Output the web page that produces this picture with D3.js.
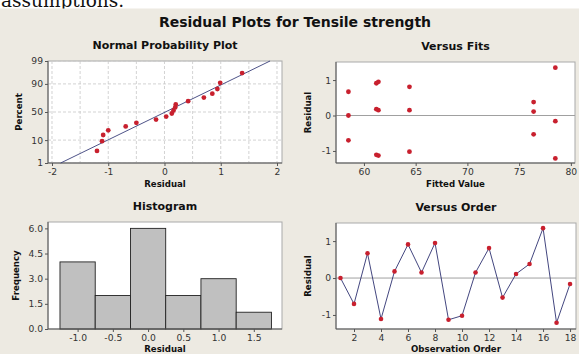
<!DOCTYPE html>
<html><head><meta charset="utf-8">
<script src="https://cdn.jsdelivr.net/npm/d3@7"></script>
<style>
html,body{margin:0;padding:0;background:#fff;}
svg{display:block;}
</style></head>
<body>
<svg id="c" width="579" height="354"></svg>
<script>
// ---------- data ----------
const order = [1,2,3,4,5,6,7,8,9,10,11,12,13,14,15,16,17,18];
const residuals = [0.00,-0.70,0.67,-1.11,0.18,0.91,0.15,0.95,-1.13,-1.02,0.15,0.81,-0.53,0.11,0.38,1.35,-1.21,-0.16];
const fitted = [58.5,58.5,58.5,61.2,61.2,61.2,61.4,61.4,61.4,64.4,64.4,64.4,76.4,76.4,76.4,78.5,78.5,78.5];
const nppResidual = [-1.20,-1.11,-1.09,-1.00,-0.69,-0.50,-0.15,0.03,0.13,0.16,0.19,0.20,0.42,0.70,0.85,0.94,0.99,1.38];
const nppPercent = [3.8,9.2,14.7,20.1,25.5,31.0,36.4,41.8,47.3,52.7,58.2,63.6,69.0,74.5,79.9,85.3,90.8,96.2];
const fitLineMean = 0.015, fitLineSd = 0.80;
const histBinStart = [-1.25,-0.75,-0.25,0.25,0.75,1.25];
const histBinWidth = 0.5;
const histCounts = [4,2,6,2,3,1];
const nppXTicks = [-2,-1,0,1,2];
const nppGridX = [-2,-1.5,-1,-0.5,0,0.5,1,1.5,2];
const nppYTicks = [1,10,50,90,99];
const fitsXTicks = [60,65,70,75,80];
const residTicks = [-1,0,1];
const histXTicks = [-1.0,-0.5,0.0,0.5,1.0,1.5];
const histYTicks = [0,1.5,3.0,4.5,6.0];
const orderXTicks = [2,4,6,8,10,12,14,16,18];

// ---------- helpers ----------
function probit(p){ // inverse standard normal CDF (Acklam)
  const a=[-3.969683028665376e+01,2.209460984245205e+02,-2.759285104469687e+02,1.383577518672690e+02,-3.066479806614716e+01,2.506628277459239e+00];
  const b=[-5.447609879822406e+01,1.615858368580409e+02,-1.556989798598866e+02,6.680131188771972e+01,-1.328068155288572e+01];
  const c=[-7.784894002430293e-03,-3.223964580411365e-01,-2.400758277161838e+00,-2.549732539343734e+00,4.374664141464968e+00,2.938163982698783e+00];
  const d=[7.784695709041462e-03,3.224671290700398e-01,2.445134137142996e+00,3.754408661907416e+00];
  const pl=0.02425, ph=1-pl; let q,r;
  if(p<pl){q=Math.sqrt(-2*Math.log(p));return (((((c[0]*q+c[1])*q+c[2])*q+c[3])*q+c[4])*q+c[5])/((((d[0]*q+d[1])*q+d[2])*q+d[3])*q+1);}
  if(p<=ph){q=p-0.5;r=q*q;return (((((a[0]*r+a[1])*r+a[2])*r+a[3])*r+a[4])*r+a[5])*q/(((((b[0]*r+b[1])*r+b[2])*r+b[3])*r+b[4])*r+1);}
  q=Math.sqrt(-2*Math.log(1-p));return -(((((c[0]*q+c[1])*q+c[2])*q+c[3])*q+c[4])*q+c[5])/((((d[0]*q+d[1])*q+d[2])*q+d[3])*q+1);
}
const fmtInt = d => String(Math.round(d));
const fmt1 = d => d.toFixed(1);

const svg = d3.select("#c");
const BG = "#edeae2", RED = "#c8202e", FONT = "DejaVu Sans, Verdana, sans-serif";

// cut-off text at top
svg.append("text").attr("x",1).attr("y",7).attr("font-family","DejaVu Serif, Liberation Serif, serif")
  .attr("font-size",18.5).attr("fill","#111").text("assumptions.");
svg.append("rect").attr("x",0).attr("y",8.5).attr("width",579).attr("height",346).attr("fill",BG);

svg.append("text").attr("x",295).attr("y",27).attr("text-anchor","middle").attr("font-family",FONT)
  .attr("font-weight","bold").attr("font-size",14).attr("fill","#111").text("Residual Plots for Tensile strength");

function panel(box, xDom, yDom, opts){
  const g = svg.append("g");
  const x = d3.scaleLinear().domain(xDom).range([box.x0, box.x1]);
  const y = d3.scaleLinear().domain(yDom).range([box.y1, box.y0]);
  g.append("rect").attr("x",box.x0).attr("y",box.y0).attr("width",box.x1-box.x0).attr("height",box.y1-box.y0)
    .attr("fill","#fff").attr("stroke","#a9a9a9").attr("stroke-width",1);
  g.append("text").attr("x",(box.x0+box.x1)/2).attr("y",box.y0-12).attr("text-anchor","middle")
    .attr("font-family",FONT).attr("font-weight","bold").attr("font-size",11).attr("fill","#111").text(opts.title);
  g.append("text").attr("x",(box.x0+box.x1)/2).attr("y",opts.xlabY).attr("text-anchor","middle")
    .attr("font-family",FONT).attr("font-weight","bold").attr("font-size",8.6).attr("fill","#111").text(opts.xlab);
  g.append("text").attr("transform",`translate(${opts.ylabX},${(box.y0+box.y1)/2}) rotate(-90)`).attr("text-anchor","middle")
    .attr("font-family",FONT).attr("font-weight","bold").attr("font-size",8.6).attr("fill","#111").text(opts.ylab);
  return {g,x,y};
}
function styleAxis(sel){
  sel.selectAll("path").attr("stroke","#555");
  sel.selectAll("line").attr("stroke","#555");
  sel.selectAll("text").attr("font-family",FONT).attr("font-size",9.2).attr("fill","#333");
}
function frame(g, box){
  g.append("line").attr("x1",box.x0).attr("x2",box.x1).attr("y1",box.y1).attr("y2",box.y1).attr("stroke","#555");
  g.append("line").attr("x1",box.x0).attr("x2",box.x0).attr("y1",box.y0).attr("y2",box.y1).attr("stroke","#555");
}

// ---------- Normal probability plot ----------
{
  const box={x0:48,x1:282,y0:61,y1:163};
  const zTop = probit(0.99), zBot = probit(0.01);
  const {g,x,y} = panel(box,[-2.071,2.089],[zBot,zTop],{title:"Normal Probability Plot",xlab:"Residual",xlabY:187,ylab:"Percent",ylabX:22});
  g.selectAll(".gx").data(nppGridX).enter().append("line").attr("x1",d=>x(d)).attr("x2",d=>x(d))
    .attr("y1",box.y0).attr("y2",box.y1).attr("stroke","#c8c8c8").attr("stroke-dasharray","3,2").attr("stroke-width",0.8);
  g.selectAll(".gy").data(nppYTicks).enter().append("line").attr("x1",box.x0).attr("x2",box.x1)
    .attr("y1",d=>y(probit(d/100))).attr("y2",d=>y(probit(d/100))).attr("stroke","#c8c8c8").attr("stroke-dasharray","3,2").attr("stroke-width",0.8);
  const xa = g.append("g").attr("transform",`translate(0,${box.y1})`).call(d3.axisBottom(x).tickValues(nppXTicks).tickSize(3).tickPadding(2).tickFormat(fmtInt));
  xa.select(".domain").remove(); styleAxis(xa);
  const ya = g.append("g").attr("transform",`translate(${box.x0},0)`).call(d3.axisLeft(y).tickValues(nppYTicks.map(v=>probit(v/100))).tickSize(3).tickPadding(2).tickFormat((d,i)=>nppYTicks[i]));
  ya.select(".domain").remove(); styleAxis(ya);
  frame(g, box);
  g.append("line").attr("x1",x(fitLineMean+fitLineSd*zBot)).attr("y1",y(zBot))
    .attr("x2",x(fitLineMean+fitLineSd*zTop)).attr("y2",y(zTop)).attr("stroke","#3a3f7a").attr("stroke-width",0.9);
  g.selectAll(".pt").data(nppResidual).enter().append("circle").attr("cx",d=>x(d)).attr("cy",(d,i)=>y(probit(nppPercent[i]/100)))
    .attr("r",2.4).attr("fill",RED);
}

// ---------- Versus Fits ----------
{
  const box={x0:336,x1:575,y0:62,y1:163};
  const {g,x,y} = panel(box,[57.3,80.4],[-1.34,1.51],{title:"Versus Fits",xlab:"Fitted Value",xlabY:187,ylab:"Residual",ylabX:311});
  g.append("line").attr("x1",box.x0).attr("x2",box.x1).attr("y1",y(0)).attr("y2",y(0)).attr("stroke","#a0a0a0").attr("stroke-width",1);
  const xa = g.append("g").attr("transform",`translate(0,${box.y1})`).call(d3.axisBottom(x).tickValues(fitsXTicks).tickSize(3).tickPadding(2).tickFormat(fmtInt));
  xa.select(".domain").remove(); styleAxis(xa);
  const ya = g.append("g").attr("transform",`translate(${box.x0},0)`).call(d3.axisLeft(y).tickValues(residTicks).tickSize(3).tickPadding(2).tickFormat(fmtInt));
  ya.select(".domain").remove(); styleAxis(ya);
  frame(g, box);
  g.selectAll(".pt").data(residuals).enter().append("circle").attr("cx",(d,i)=>x(fitted[i])).attr("cy",d=>y(d))
    .attr("r",2.4).attr("fill",RED);
}

// ---------- Histogram ----------
{
  const box={x0:48,x1:282,y0:222,y1:329};
  const {g,x,y} = panel(box,[-1.42,1.90],[0,6.38],{title:"Histogram",xlab:"Residual",xlabY:352,ylab:"Frequency",ylabX:19});
  g.selectAll(".bar").data(histCounts).enter().append("rect")
    .attr("x",(d,i)=>x(histBinStart[i])).attr("width",(d,i)=>x(histBinStart[i]+histBinWidth)-x(histBinStart[i]))
    .attr("y",d=>y(d)).attr("height",d=>y(0)-y(d)).attr("fill","#c0c0c0").attr("stroke","#222").attr("stroke-width",0.9);
  const xa = g.append("g").attr("transform",`translate(0,${box.y1})`).call(d3.axisBottom(x).tickValues(histXTicks).tickSize(3).tickPadding(2).tickFormat(fmt1));
  xa.select(".domain").remove(); styleAxis(xa);
  const ya = g.append("g").attr("transform",`translate(${box.x0},0)`).call(d3.axisLeft(y).tickValues(histYTicks).tickSize(3).tickPadding(2).tickFormat(fmt1));
  ya.select(".domain").remove(); styleAxis(ya);
  frame(g, box);
}

// ---------- Versus Order ----------
{
  const box={x0:336,x1:576,y0:223,y1:329};
  const {g,x,y} = panel(box,[0.667,18.44],[-1.38,1.49],{title:"Versus Order",xlab:"Observation Order",xlabY:352,ylab:"Residual",ylabX:311});
  g.append("line").attr("x1",box.x0).attr("x2",box.x1).attr("y1",y(0)).attr("y2",y(0)).attr("stroke","#a0a0a0").attr("stroke-width",1);
  const xa = g.append("g").attr("transform",`translate(0,${box.y1})`).call(d3.axisBottom(x).tickValues(orderXTicks).tickSize(3).tickPadding(2).tickFormat(fmtInt));
  xa.select(".domain").remove(); styleAxis(xa);
  const ya = g.append("g").attr("transform",`translate(${box.x0},0)`).call(d3.axisLeft(y).tickValues(residTicks).tickSize(3).tickPadding(2).tickFormat(fmtInt));
  ya.select(".domain").remove(); styleAxis(ya);
  frame(g, box);
  const line = d3.line().x((d,i)=>x(order[i])).y(d=>y(d));
  g.append("path").datum(residuals).attr("d",line).attr("fill","none").attr("stroke","#2e3170").attr("stroke-width",0.9);
  g.selectAll(".pt").data(residuals).enter().append("circle").attr("cx",(d,i)=>x(order[i])).attr("cy",d=>y(d))
    .attr("r",2.3).attr("fill",RED);
}
</script>
</body></html>
